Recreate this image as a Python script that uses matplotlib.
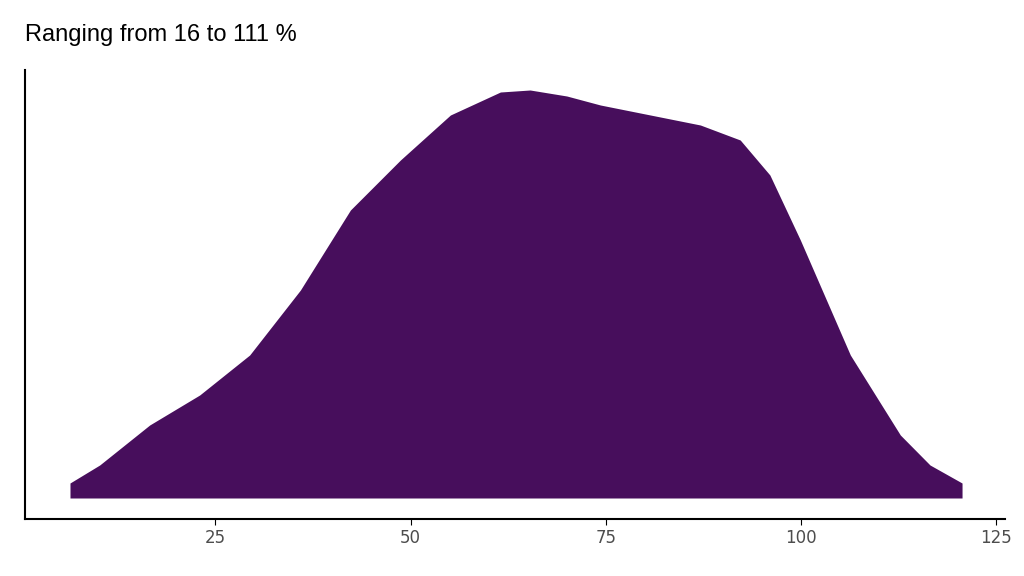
import numpy as np
import matplotlib.pyplot as plt

# density curve (x in %, height in relative units)
x_vals = [6.4, 10.2, 16.6, 23.0, 29.4, 35.9, 42.3, 48.7, 55.1, 61.5, 65.3,
          70.0, 74.3, 80.7, 87.1, 92.2, 96.0, 99.9, 106.3, 112.7, 116.5, 120.6]
dens = [15, 33, 73, 103, 143, 208, 288, 338, 383, 406, 408,
        402, 393, 383, 373, 358, 323, 258, 143, 63, 33, 15]
xticks = [25, 50, 75, 100, 125]

fig = plt.figure(figsize=(10.24, 5.76), dpi=100)
ax = fig.add_axes([25/1024, 57/576, 980/1024, 449/576])

ax.fill_between(x_vals, 0, dens, color="#470e5c", linewidth=0)

ax.set_xlim(0.64, 126.1)
ax.set_ylim(-21, 428)
ax.set_xticks(xticks)
ax.set_xticklabels([str(t) for t in xticks], fontsize=12, color="#4d4d4d")
ax.set_yticks([])
ax.tick_params(axis="x", length=4, color="black")
for s in ["top", "right"]:
    ax.spines[s].set_visible(False)
ax.spines["left"].set_linewidth(1.5)
ax.spines["bottom"].set_linewidth(1.5)

fig.text(25/1024, 1 - 35/576, "Ranging from 16 to 111 %", fontsize=17,
         va="center", ha="left", family="Liberation Sans")

fig.savefig("out.png", dpi=100)
